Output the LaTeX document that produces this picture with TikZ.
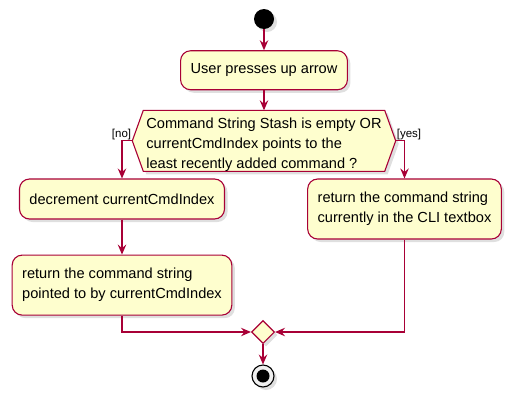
\documentclass[tikz,border=0pt]{standalone}
\usepackage{fontspec}
\setmainfont{Liberation Sans}
\usetikzlibrary{arrows.meta,shapes.geometric,shadows,positioning,backgrounds}
\definecolor{umlred}{HTML}{A80036}
\definecolor{umlfill}{HTML}{FEFECE}

\begin{document}
\begin{tikzpicture}[x=1pt,y=-1pt,>={Stealth[length=10pt,width=8.5pt,inset=3.5pt]},
  flow/.style={->,draw=umlred,line width=1.1pt},
  shade/.style={drop shadow={opacity=0.25,shadow xshift=3pt,shadow yshift=-3pt}},
  act/.style={rectangle,rounded corners=10pt,draw=umlred,fill=umlfill,line width=1.1pt,
    inner xsep=10pt,inner ysep=0pt,align=left,font=\fontsize{14.6}{20}\selectfont,shade},
  decision/.style={draw=umlred,fill=umlfill,line width=1.1pt,shade},
  guard/.style={font=\fontsize{11.5}{13}\selectfont,inner sep=1pt},
  startnode/.style={circle,fill=black,minimum size=20pt,inner sep=0pt,shade},
  stopnode/.style={circle,draw=black,fill=gray!12,line width=1.1pt,minimum size=22pt,inner sep=0pt,shade,
    path picture={\fill[black] (path picture bounding box.center) circle (6.5pt);}},
  mergenode/.style={diamond,draw=umlred,fill=umlfill,line width=1.1pt,minimum size=23pt,inner sep=0pt,shade}]
\useasboundingbox (0,0) rectangle (518,402);

\node[startnode] (start) at (264,19) {};
\node[act,minimum height=39pt,below=21pt of start] (act1) {User presses up arrow};
\node[minimum width=241pt,minimum height=60pt,inner sep=0pt,align=left,
  font=\fontsize{14.6}{20}\selectfont,below=20pt of act1] (check)
  {\rule{0pt}{17.6pt}Command String Stash is empty OR\\currentCmdIndex points to the\\least recently added command ?};
\coordinate (chkL) at ([xshift=-11pt]check.west);
\coordinate (chkR) at ([xshift=11pt]check.east);
\begin{scope}[on background layer]
\path[decision] (check.north west) -- (check.north east) -- (chkR) -- (check.south east)
  -- (check.south west) -- (chkL) -- cycle;
\end{scope}

\node[act,minimum height=40pt] (dec) at (122,199) {decrement currentCmdIndex};
\node[act,minimum height=60pt,below=35pt of dec] (ret)
  {return the command string\\pointed to by currentCmdIndex};
\node[act,minimum height=60pt] (cur) at (404.5,209)
  {return the command string\\currently in the CLI textbox};
\node[mergenode] (merge) at (263,332) {};
\node[stopnode] (stop) at (263,376) {};

\node[guard,anchor=south east] (nolbl) at (chkL) {[no]};
\node[guard,anchor=south west] (yeslbl) at (chkR) {[yes]};

\draw[flow] (start) -- (act1);
\draw[flow] (act1) -- (check);
\draw[flow] (chkL) -| (dec);
\draw[flow] (chkR) -| (cur);
\draw[flow] (dec) -- (ret);
\draw[flow] (ret) |- (merge);
\draw[flow] (cur) |- (merge);
\draw[flow] (merge) -- (stop);
\end{tikzpicture}
\end{document}
